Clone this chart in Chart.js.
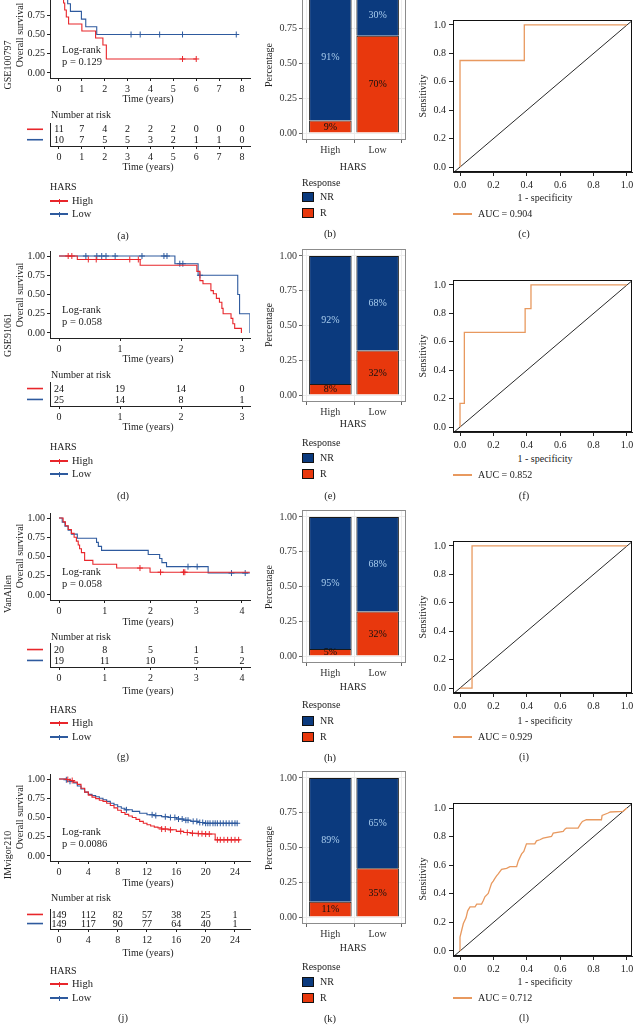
<!DOCTYPE html>
<html><head><meta charset="utf-8">
<script src="https://cdn.jsdelivr.net/npm/chart.js@4"></script>
<style>
html,body{margin:0;padding:0;}
body{width:635px;height:1025px;overflow:hidden;background:#fff;position:relative;font-family:"Liberation Serif","Times New Roman",serif;}
canvas{position:absolute;}
.t{position:absolute;white-space:nowrap;font-size:10px;color:#222;line-height:1;}
.b{position:absolute;}
</style></head><body>
<script>
// ---------------- DATA ----------------
const cohorts = ['GSE100797', 'GSE91061', 'VanAllen', 'IMvigor210'];
const groupNames = ['High', 'Low'];
const logrankP = ['0.129', '0.058', '0.058', '0.0086'];
const kmYTicks = [0, 0.25, 0.5, 0.75, 1];
const xTicksA = [0, 1, 2, 3, 4, 5, 6, 7, 8];
const xTicksD = [0, 1, 2, 3];
const xTicksG = [0, 1, 2, 3, 4];
const xTicksJ = [0, 4, 8, 12, 16, 20, 24];

// (a) GSE100797
const kmA_high_t = [0, 0.2, 0.25, 0.32, 0.42, 1.0, 1.6, 1.92, 2.07, 6.0];
const kmA_high_s = [1, 0.909, 0.818, 0.727, 0.636, 0.545, 0.455, 0.364, 0.182, 0.182];
const kmA_high_c = [5.4, 6.0];
const kmA_low_t = [0, 0.38, 0.5, 0.98, 1.17, 1.65, 7.75];
const kmA_low_s = [1, 0.9, 0.8, 0.7, 0.6, 0.5, 0.5];
const kmA_low_c = [3.15, 3.55, 4.4, 5.4, 7.75];
// (d) GSE91061
const kmD_high_t = [0, 0.3, 1.33, 2.26, 2.31, 2.36, 2.49, 2.53, 2.58, 2.63, 2.67, 2.69, 2.82, 2.85, 2.88, 2.99];
const kmD_high_s = [1, 0.955, 0.88, 0.80, 0.68, 0.64, 0.55, 0.51, 0.45, 0.40, 0.32, 0.25, 0.19, 0.12, 0.06, 0.0];
const kmD_high_c = [0.15, 0.21, 0.48, 0.61, 1.16, 1.3];
const kmD_low_t = [0, 1.9, 2.28, 2.93, 2.96, 3.13];
const kmD_low_s = [1, 0.9, 0.75, 0.5, 0.25, 0.0];
const kmD_low_c = [0.44, 0.62, 0.7, 0.77, 0.92, 1.36, 1.72, 1.77, 1.98, 2.03, 2.31];
// (g) VanAllen
const kmG_high_t = [0, 0.09, 0.14, 0.2, 0.27, 0.33, 0.38, 0.42, 0.45, 0.49, 0.56, 0.74, 1.26, 1.99, 4.17];
const kmG_high_s = [1, 0.95, 0.90, 0.85, 0.80, 0.75, 0.70, 0.65, 0.60, 0.55, 0.45, 0.40, 0.35, 0.296, 0.296];
const kmG_high_c = [1.77, 2.22, 2.72, 2.75];
const kmG_low_t = [0, 0.07, 0.13, 0.2, 0.27, 0.4, 0.82, 0.86, 0.93, 1.95, 2.2, 2.25, 2.35, 3.26, 4.17];
const kmG_low_s = [1, 0.947, 0.895, 0.842, 0.79, 0.737, 0.684, 0.632, 0.579, 0.526, 0.474, 0.421, 0.368, 0.285, 0.285];
const kmG_low_c = [2.82, 3.02, 3.77, 4.07];
// (j) IMvigor210
const kmJ_high_t = [0, 1, 1.5, 2, 2.5, 3, 3.5, 4, 4.5, 5, 5.5, 6, 6.5, 7, 7.5, 8, 8.5, 9, 9.5, 10, 10.5, 11, 11.5, 12, 12.5, 13, 13.5, 14, 15, 16, 17, 18, 19, 20, 21, 21.3, 24.7];
const kmJ_high_s = [1, 0.993, 0.98, 0.96, 0.93, 0.88, 0.83, 0.79, 0.765, 0.745, 0.725, 0.71, 0.685, 0.655, 0.625, 0.595, 0.565, 0.54, 0.52, 0.50, 0.475, 0.45, 0.425, 0.405, 0.39, 0.375, 0.365, 0.35, 0.34, 0.32, 0.305, 0.295, 0.29, 0.285, 0.285, 0.21, 0.21];
const kmJ_high_c = [1.2, 1.8, 14.0, 14.5, 15.2, 16.6, 17.5, 18.2, 19.0, 19.5, 20.0, 20.5, 21.6, 22.0, 22.5, 23.0, 23.5, 24.0, 24.5];
const kmJ_low_t = [0, 1, 1.5, 2, 2.5, 3, 3.5, 4, 4.5, 5, 5.5, 6, 6.5, 7, 7.5, 8, 8.5, 9, 10, 11, 12, 13, 14, 15, 16, 17, 18, 19, 19.8, 24.3];
const kmJ_low_s = [1, 0.99, 0.97, 0.95, 0.91, 0.87, 0.83, 0.80, 0.785, 0.77, 0.75, 0.73, 0.71, 0.685, 0.665, 0.64, 0.62, 0.60, 0.58, 0.555, 0.535, 0.525, 0.51, 0.50, 0.48, 0.465, 0.45, 0.435, 0.425, 0.425];
const kmJ_low_c = [1.0, 1.5, 9.2, 12.7, 13.2, 14.5, 15.2, 15.8, 16.3, 16.8, 17.3, 17.6, 18.3, 18.8, 19.2, 19.6, 20.0, 20.3, 20.6, 21.0, 21.3, 21.6, 22.0, 22.4, 22.8, 23.2, 23.6, 24.0, 24.3];

// number at risk
const riskA_high = [11, 7, 4, 2, 2, 2, 0, 0, 0];
const riskA_low  = [10, 7, 5, 5, 3, 2, 1, 1, 0];
const riskD_high = [24, 19, 14, 0];
const riskD_low  = [25, 14, 8, 1];
const riskG_high = [20, 8, 5, 1, 1];
const riskG_low  = [19, 11, 10, 5, 2];
const riskJ_high = [149, 112, 82, 57, 38, 25, 1];
const riskJ_low  = [149, 117, 90, 77, 64, 40, 1];

// response bars (fraction)
const barCats = ['High', 'Low'];
const barYTicks = [0, 0.25, 0.5, 0.75, 1];
const barB_R = [0.09, 0.70], barB_NR = [0.91, 0.30];
const barE_R = [0.08, 0.32], barE_NR = [0.92, 0.68];
const barH_R = [0.05, 0.32], barH_NR = [0.95, 0.68];
const barK_R = [0.11, 0.35], barK_NR = [0.89, 0.65];

// ROC
const rocTicks = [0, 0.2, 0.4, 0.6, 0.8, 1];
const refLine = [-0.05, 1.05];
const aucValues = ['0.904', '0.852', '0.929', '0.712'];
const rocC_fpr = [0, 0, 0.385, 0.385, 1];
const rocC_tpr = [0, 0.75, 0.75, 1, 1];
const rocF_fpr = [0, 0, 0.026, 0.026, 0.39, 0.39, 0.425, 0.425, 1];
const rocF_tpr = [0, 0.167, 0.167, 0.667, 0.667, 0.833, 0.833, 1, 1];
const rocI_fpr = [0, 0.072, 0.072, 1];
const rocI_tpr = [0, 0, 1, 1];
const rocL_fpr = [0, 0, 0.01, 0.02, 0.036, 0.046, 0.06, 0.09, 0.1, 0.129, 0.139, 0.149, 0.169, 0.179, 0.189, 0.199, 0.209, 0.219, 0.229, 0.249, 0.279, 0.299, 0.339, 0.349, 0.369, 0.382, 0.398, 0.448, 0.458, 0.478, 0.498, 0.548, 0.558, 0.618, 0.628, 0.637, 0.707, 0.721, 0.733, 0.757, 0.847, 0.851, 0.887, 0.9, 0.976, 1];
const rocL_tpr = [0, 0.098, 0.145, 0.192, 0.232, 0.281, 0.309, 0.309, 0.328, 0.328, 0.351, 0.379, 0.403, 0.438, 0.473, 0.489, 0.508, 0.525, 0.539, 0.571, 0.578, 0.59, 0.59, 0.63, 0.679, 0.696, 0.749, 0.749, 0.77, 0.778, 0.789, 0.801, 0.824, 0.836, 0.852, 0.859, 0.859, 0.887, 0.906, 0.918, 0.918, 0.948, 0.965, 0.972, 0.977, 1];

// ---------------- STYLE / HELPERS ----------------
const FONT = '"Liberation Serif","Times New Roman",serif';
const RED = '#e8262b', BLUE = '#2e5a9e', NAVY = '#0b3a7e', BARRED = '#e8380d', ROCCOL = '#e8995f';
Chart.defaults.font.family = FONT;
Chart.defaults.font.size = 10;
Chart.defaults.color = '#222';

function T(str, x, y, o = {}) {
  const d = document.createElement('div');
  d.className = 't'; d.textContent = str;
  d.style.left = x + 'px'; d.style.top = y + 'px';
  d.style.fontSize = (o.size || 10) + 'px';
  if (o.color) d.style.color = o.color;
  const tx = o.align === 'left' ? '0' : '-50%';
  d.style.transform = 'translate(' + tx + ',-50%)' + (o.rot ? ' rotate(' + o.rot + 'deg)' : '');
  document.body.appendChild(d);
}
function B(x, y, w, h, css) {
  const d = document.createElement('div');
  d.className = 'b';
  d.style.cssText += 'left:' + x + 'px;top:' + y + 'px;width:' + w + 'px;height:' + h + 'px;' + css;
  document.body.appendChild(d);
}
function stepAt(ts, ss, t) { let v = ss[0]; for (let i = 0; i < ts.length; i++) if (ts[i] <= t) v = ss[i]; return v; }

function mk(area, sp, cfg) {
  const at = Math.round(area.t), ab = Math.round(area.b);
  const W = Math.round(area.r - area.l + sp.l + sp.r);
  const H = ab - at + sp.t + sp.b;
  const c = document.createElement('canvas');
  c.width = W; c.height = H;
  c.style.left = Math.round(area.l - sp.l) + 'px';
  c.style.top = (at - sp.t) + 'px';
  c.style.width = W + 'px'; c.style.height = H + 'px';
  document.body.appendChild(c);
  cfg.options = cfg.options || {};
  Object.assign(cfg.options, { responsive: false, animation: false, devicePixelRatio: 1,
    layout: { padding: { left: 0, top: sp.t, right: sp.r, bottom: 0 } } });
  cfg.options.plugins = Object.assign({ legend: { display: false }, tooltip: { enabled: false } }, cfg.options.plugins || {});
  cfg.options.scales.x.afterFit = s => { s.height = sp.b; s.paddingLeft = 0; s.paddingRight = 0; };
  cfg.options.scales.y.afterFit = s => { s.width = sp.l; s.paddingTop = 0; s.paddingBottom = 0; };
  return new Chart(c, cfg);
}
function axisLin(min, max, ticks, fmt, o = {}) {
  return { type: 'linear', min, max,
    afterBuildTicks: s => { s.ticks = ticks.map(v => ({ value: v })); },
    ticks: { callback: fmt, padding: o.pad ?? 2, color: o.color || '#222', font: { size: 10 }, autoSkip: false, maxRotation: 0, display: o.labels !== false },
    grid: { display: true, drawOnChartArea: !!o.grid, drawTicks: true, tickLength: o.tl ?? 3, color: o.gridColor || '#222', tickColor: o.tickColor || '#222', lineWidth: 1 },
    border: { display: o.border !== false, color: o.borderColor || '#222', width: 1 }
  };
}

// ---------------- KAPLAN-MEIER ----------------
function kmChart(p) {
  const datasets = [];
  p.groups.forEach(g => {
    datasets.push({ type: 'line', data: g.t.map((t, i) => ({ x: t, y: g.s[i] })), stepped: 'before',
      borderColor: g.color, borderWidth: 1.1, pointRadius: 0, fill: false });
    datasets.push({ type: 'scatter', data: g.c.map(t => ({ x: t, y: stepAt(g.t, g.s, t) })), pointStyle: 'cross',
      pointRadius: 3, borderColor: g.color, backgroundColor: g.color, borderWidth: 1 });
  });
  mk({ l: 50, r: 250, t: p.top, b: p.bottom }, { l: 50, t: 8, r: 14, b: 22 }, {
    type: 'scatter', data: { datasets },
    options: { scales: {
      x: axisLin(p.xmin, p.xmax, p.xticks, v => String(v)),
      y: axisLin(-0.065, 1.065, kmYTicks, v => v.toFixed(2))
    } }
  });
}
function riskChart(p) {
  const plugin = { id: 'riskNums', afterDraw(chart) {
    const ctx = chart.ctx, xs = chart.scales.x, ys = chart.scales.y;
    ctx.save();
    ctx.font = '10px ' + FONT; ctx.fillStyle = '#111'; ctx.textAlign = 'center'; ctx.textBaseline = 'middle';
    p.rows.forEach(row => {
      const y = ys.getPixelForValue(row.level);
      row.n.forEach((n, i) => ctx.fillText(String(n), xs.getPixelForValue(p.xticks[i]), y + 0.5));
      ctx.strokeStyle = row.color; ctx.lineWidth = 1.6;
      ctx.beginPath(); ctx.moveTo(xs.left - 23, y); ctx.lineTo(xs.left - 7, y); ctx.stroke();
    });
    ctx.restore();
  } };
  mk({ l: 50, r: 250, t: p.top, b: p.bottom }, { l: 50, t: 4, r: 14, b: 22 }, {
    type: 'scatter', data: { datasets: [] },
    options: { scales: {
      x: axisLin(p.xmin, p.xmax, p.xticks, v => String(v)),
      y: { type: 'linear', min: 0.4, max: 2.6, ticks: { display: false }, grid: { display: false }, border: { display: true, color: '#222', width: 1 } }
    } },
    plugins: [plugin]
  });
}

// ---------------- RESPONSE BARS ----------------
function barChart(p) {
  const U = 139;
  const plugin = { id: 'barDeco', afterDatasetsDraw(chart) {
    const ctx = chart.ctx;
    ctx.save();
    ctx.font = '10px ' + FONT; ctx.textAlign = 'center'; ctx.textBaseline = 'middle';
    chart.data.datasets.forEach((ds, di) => {
      const meta = chart.getDatasetMeta(di);
      meta.data.forEach((el, i) => {
        const pr = el.getProps(['x', 'y', 'base'], true);
        ctx.fillStyle = ds.labelColor;
        ctx.fillText(Math.round(ds.data[i].y * 100) + '%', pr.x, (pr.y + pr.base) / 2 + 0.5);
      });
    });
    const a = chart.chartArea;
    ctx.strokeStyle = '#8c8c8c'; ctx.lineWidth = 1;
    ctx.strokeRect(a.left + 0.5, a.top + 0.5, a.right - a.left - 1, a.bottom - a.top - 1);
    ctx.restore();
  } };
  const xo = axisLin(0.4, 2.6, [1, 2], v => barCats[v - 1], { grid: true, gridColor: '#ececec', tickColor: '#666', border: false, color: '#333', pad: 1 });
  xo.stacked = true; xo.offset = false;
  const yo = axisLin(-0.05, 1.05, barYTicks, v => v.toFixed(2), { grid: true, gridColor: '#ececec', tickColor: '#666', border: false, color: '#333', pad: 2 });
  yo.stacked = true;
  mk({ l: 302, r: 406, t: p.zero - 1.05 * U, b: p.zero + 0.05 * U }, { l: 40, t: 6, r: 4, b: 18 }, {
    type: 'bar',
    data: { datasets: [
      { label: 'R', data: p.R.map((v, i) => ({ x: i + 1, y: v })), backgroundColor: BARRED, borderColor: '#1a1a1a', borderWidth: 1, categoryPercentage: 1, barPercentage: 0.9, labelColor: '#111' },
      { label: 'NR', data: p.NR.map((v, i) => ({ x: i + 1, y: v })), backgroundColor: NAVY, borderColor: '#1a1a1a', borderWidth: 1, categoryPercentage: 1, barPercentage: 0.9, labelColor: '#a9cdee' }
    ] },
    options: { scales: { x: xo, y: yo } },
    plugins: [plugin]
  });
}

// ---------------- ROC ----------------
function rocChart(p) {
  const U = p.zero - p.one;
  const plugin = { id: 'box', afterDraw(chart) {
    const a = chart.chartArea, ctx = chart.ctx;
    ctx.save(); ctx.strokeStyle = '#111'; ctx.lineWidth = 1;
    ctx.strokeRect(a.left + 0.5, a.top + 0.5, a.right - a.left - 1, a.bottom - a.top - 1);
    ctx.restore();
  } };
  mk({ l: 453, r: 632, t: p.one - 0.035 * U, b: p.zero + 0.035 * U }, { l: 40, t: 6, r: 10, b: 20 }, {
    type: 'scatter',
    data: { datasets: [
      { type: 'line', data: p.fpr.map((v, i) => ({ x: v, y: p.tpr[i] })), borderColor: ROCCOL, borderWidth: 1.3, pointRadius: 0, fill: false },
      { type: 'line', data: refLine.map(v => ({ x: v, y: v })), borderColor: '#111', borderWidth: 0.9, pointRadius: 0, fill: false }
    ] },
    options: { scales: {
      x: axisLin(-0.042, 1.03, rocTicks, v => v.toFixed(1), { tl: 4, pad: 3 }),
      y: axisLin(-0.035, 1.035, rocTicks, v => v.toFixed(1), { tl: 4, pad: 3 })
    } },
    plugins: [plugin]
  });
}

// ---------------- LAYOUT OF THE FOUR ROWS ----------------
const rows = [
  { km: { top: -9.3, bottom: 78, xmin: -0.393, xmax: 8.35, xticks: xTicksA,
      groups: [{ t: kmA_high_t, s: kmA_high_s, c: kmA_high_c, color: RED }, { t: kmA_low_t, s: kmA_low_s, c: kmA_low_c, color: BLUE }] },
    risk: { top: 122.8, bottom: 145.5, hi: riskA_high, lo: riskA_low },
    y: { cohort: 65, os: 35, lr: 50, t1: 99, nar: 115, t2: 167, hars: 187, high: 201, low: 214, lab: 236 },
    bar: { zero: 133, R: barB_R, NR: barB_NR, pct: 65, hars: 167, resp: 183, nr: 197, r: 213, lab: 234 },
    roc: { one: 25, zero: 167, fpr: rocC_fpr, tpr: rocC_tpr, sens: 96, xt: 198, auc: 214, lab: 234 },
    labels: ['(a)', '(b)', '(c)'] },
  { km: { top: 251, bottom: 338, xmin: -0.148, xmax: 3.131, xticks: xTicksD,
      groups: [{ t: kmD_high_t, s: kmD_high_s, c: kmD_high_c, color: RED }, { t: kmD_low_t, s: kmD_low_s, c: kmD_low_c, color: BLUE }] },
    risk: { top: 382.4, bottom: 405.5, hi: riskD_high, lo: riskD_low },
    y: { cohort: 335, os: 295, lr: 310, t1: 359, nar: 375, t2: 427, hars: 447, high: 461, low: 474, lab: 496 },
    bar: { zero: 395, R: barE_R, NR: barE_NR, pct: 325, hars: 424, resp: 443, nr: 458, r: 474, lab: 496 },
    roc: { one: 285, zero: 427, fpr: rocF_fpr, tpr: rocF_tpr, sens: 356, xt: 459, auc: 475, lab: 496 },
    labels: ['(d)', '(e)', '(f)'] },
  { km: { top: 512.7, bottom: 600, xmin: -0.197, xmax: 4.175, xticks: xTicksG,
      groups: [{ t: kmG_high_t, s: kmG_high_s, c: kmG_high_c, color: RED }, { t: kmG_low_t, s: kmG_low_s, c: kmG_low_c, color: BLUE }] },
    risk: { top: 643, bottom: 667, hi: riskG_high, lo: riskG_low },
    y: { cohort: 594, os: 556, lr: 572, t1: 622, nar: 637, t2: 691, hars: 710, high: 723, low: 737, lab: 757 },
    bar: { zero: 656, R: barH_R, NR: barH_NR, pct: 587, hars: 687, resp: 705, nr: 721, r: 737, lab: 758 },
    roc: { one: 546, zero: 688, fpr: rocI_fpr, tpr: rocI_tpr, sens: 617, xt: 721, auc: 737, lab: 757 },
    labels: ['(g)', '(h)', '(i)'] },
  { km: { top: 773.7, bottom: 861, xmin: -1.227, xmax: 26.05, xticks: xTicksJ,
      groups: [{ t: kmJ_high_t, s: kmJ_high_s, c: kmJ_high_c, color: RED }, { t: kmJ_low_t, s: kmJ_low_s, c: kmJ_low_c, color: BLUE }] },
    risk: { top: 909.2, bottom: 929, hi: riskJ_high, lo: riskJ_low },
    y: { cohort: 855, os: 817, lr: 832, t1: 883, nar: 898, t2: 953, hars: 971, high: 984, low: 998, lab: 1018 },
    bar: { zero: 917, R: barK_R, NR: barK_NR, pct: 848, hars: 948, resp: 967, nr: 982, r: 998, lab: 1019 },
    roc: { one: 808, zero: 951, fpr: rocL_fpr, tpr: rocL_tpr, sens: 879, xt: 982, auc: 998, lab: 1018 },
    labels: ['(j)', '(k)', '(l)'] }
];

rows.forEach((R, k) => {
  // KM
  kmChart(R.km);
  riskChart({ top: R.risk.top, bottom: R.risk.bottom, xmin: R.km.xmin, xmax: R.km.xmax, xticks: R.km.xticks,
    rows: [{ level: 2, n: R.risk.hi, color: RED }, { level: 1, n: R.risk.lo, color: BLUE }] });
  const y = R.y;
  T(cohorts[k], 8, y.cohort, { rot: -90 });
  T('Overall survival', 20, y.os, { rot: -90 });
  T('Log-rank', 62, y.lr, { align: 'left', size: 10.5 });
  T('p = ' + logrankP[k], 62, y.lr + 12, { align: 'left', size: 10.5 });
  T('Time (years)', 148, y.t1);
  T('Number at risk', 51, y.nar, { align: 'left' });
  T('Time (years)', 148, y.t2);
  T('HARS', 50, y.hars, { align: 'left' });
  [[RED, y.high, groupNames[0]], [BLUE, y.low, groupNames[1]]].forEach(([col, yy, name]) => {
    B(50, yy - 0.6, 18, 1.2, 'background:' + col);
    B(58.5, yy - 2.5, 1, 5, 'background:' + col);
    T(name, 72, yy, { align: 'left', size: 10.5 });
  });
  T(R.labels[0], 123, y.lab, { size: 10.5 });
  // Bars
  const b = R.bar;
  barChart(b);
  T('Percentage', 269, b.pct, { rot: -90 });
  T('HARS', 353, b.hars);
  T('Response', 302, b.resp, { align: 'left' });
  B(302, b.nr - 5, 10, 8, 'background:' + NAVY + ';border:1px solid #111');
  T('NR', 320, b.nr, { align: 'left' });
  B(302, b.r - 5, 10, 8, 'background:' + BARRED + ';border:1px solid #111');
  T('R', 320, b.r, { align: 'left' });
  T(R.labels[1], 330, b.lab, { size: 10.5 });
  // ROC
  const r = R.roc;
  rocChart(r);
  T('Sensitivity', 423, r.sens, { rot: -90 });
  T('1 - specificity', 545, r.xt);
  B(453, r.auc - 0.75, 19, 1.5, 'background:' + ROCCOL);
  T('AUC = ' + aucValues[k], 478, r.auc, { align: 'left' });
  T(R.labels[2], 524, r.lab, { size: 10.5 });
});
</script>
</body></html>
